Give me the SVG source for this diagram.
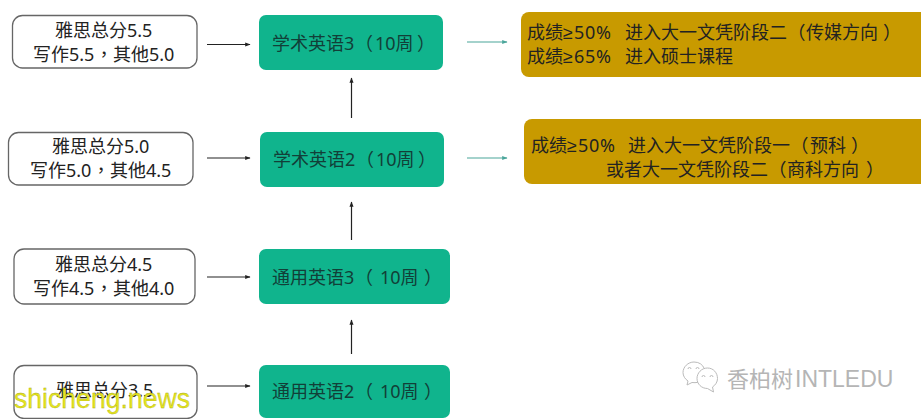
<svg xmlns="http://www.w3.org/2000/svg" width="921" height="419" viewBox="0 0 921 419">
<style>
text{font-family:"Noto Sans","Noto Sans CJK SC",sans-serif;font-size:18px;fill:#222;}
.g1{fill:#123f38}
.cm{font-family:"Noto Sans CJK TC",sans-serif}
.ge{font-family:"Liberation Sans",sans-serif}
.pc{letter-spacing:.8px}
.w{fill:#fff;stroke:#666;stroke-width:1.3}
.g{fill:#10b48d}
.y{fill:#c89a00}
.c{stroke:#222;stroke-width:1.2;fill:none}
.t{stroke:#4aa59a;stroke-width:1.2;fill:none}
.wm{font-family:"Liberation Sans",sans-serif;font-size:28px;fill:#e4e41e;stroke:#a8a820;stroke-width:.3}
.lg{font-size:22px;fill:#b5b5b5}
.lat{font-family:"Liberation Sans",sans-serif;font-size:23px;fill:#b5b5b5}
.i{fill:#fff;stroke:#bbb;stroke-width:1}
.e{fill:none;stroke:#bbb;stroke-width:1}
</style>
<defs>
<marker id="a" markerWidth="5" markerHeight="5" refX="4" refY="2.500" orient="auto"><path d="M0 .8L4.500 2.500L0 4.200Z" fill="#222"/></marker>
<marker id="b" markerWidth="5" markerHeight="5" refX="4" refY="2.500" orient="auto"><path d="M0 .8L4.500 2.500L0 4.200Z" fill="#4aa59a"/></marker>
</defs>
<g id="connectors">
<path class="c" marker-end="url(#a)" d="M207 44.500H250"/>
<path class="c" marker-end="url(#a)" d="M207 158H250"/>
<path class="c" marker-end="url(#a)" d="M207 277H250"/>
<path class="c" marker-end="url(#a)" d="M207 386H250"/>
<path class="c" marker-end="url(#a)" d="M351.500 118V78"/>
<path class="c" marker-end="url(#a)" d="M351.500 240V202"/>
<path class="c" marker-end="url(#a)" d="M351.500 354V320"/>
<path class="t" marker-end="url(#b)" d="M467 42H507"/>
<path class="t" marker-end="url(#b)" d="M467 158H507"/>
</g>
<g id="req1"><rect class="w" x="12.500" y="15.500" width="184.500" height="52.500" rx="10"/><text x="55" y="36.500">雅思总分5.5</text><text x="33" y="60.500">写作5.5<tspan class="cm" x="95">，</tspan><tspan x="113">其他5.0</tspan></text></g>
<g id="req2"><rect class="w" x="8.500" y="132.500" width="184.500" height="52.500" rx="10"/><text x="52" y="153">雅思总分5.0</text><text x="30" y="177">写作5.0<tspan class="cm" x="92">，</tspan><tspan x="110">其他4.5</tspan></text></g>
<g id="req3"><rect class="w" x="14" y="249" width="181" height="55" rx="10"/><text x="55" y="271">雅思总分4.5</text><text x="33" y="295">写作4.5<tspan class="cm" x="95">，</tspan><tspan x="113">其他4.0</tspan></text></g>
<g id="req4"><rect class="w" x="14" y="365.500" width="183" height="53" rx="10"/><text x="56" y="397">雅思总分3.5</text></g>
<g id="c1"><rect class="g" x="259" y="15" width="184" height="55" rx="7"/><text class="g1" x="272" y="50">学术英语3<tspan x="355">（</tspan><tspan x="375">10周</tspan><tspan x="417">）</tspan></text></g>
<g id="c2"><rect class="g" x="260" y="132" width="184" height="55" rx="7"/><text class="g1" x="273" y="166">学术英语2<tspan x="356">（</tspan><tspan x="376">10周</tspan><tspan x="418">）</tspan></text></g>
<g id="c3"><rect class="g" x="259" y="249" width="191" height="55" rx="7"/><text class="g1" x="272" y="284">通用英语3<tspan x="355">（</tspan><tspan x="380">10周</tspan><tspan x="424">）</tspan></text></g>
<g id="c4"><rect class="g" x="259" y="365" width="191" height="53" rx="7"/><text class="g1" x="272" y="398">通用英语2<tspan x="355">（</tspan><tspan x="380">10周</tspan><tspan x="424">）</tspan></text></g>
<g id="out1"><rect class="y" x="521" y="12" width="410" height="65" rx="8"/><text x="527" y="39">成绩<tspan class="ge">≥</tspan><tspan class="pc" dx="1">50%</tspan><tspan x="625">进入大一文凭阶段二</tspan><tspan x="787.500">（</tspan><tspan x="806">传媒方向</tspan><tspan x="883">）</tspan></text><text x="527" y="63">成绩<tspan class="ge">≥</tspan><tspan class="pc" dx="1">65%</tspan><tspan x="625">进入硕士课程</tspan></text></g>
<g id="out2"><rect class="y" x="524" y="119" width="407" height="65" rx="8"/><text x="531" y="152">成绩<tspan class="ge">≥</tspan><tspan class="pc" dx="1">50%</tspan><tspan x="628">进入大一文凭阶段一</tspan><tspan x="790.500">（</tspan><tspan x="810">预科</tspan><tspan x="851">）</tspan></text><text x="606" y="176">或者大一文凭阶段二<tspan x="768.500">（</tspan><tspan x="787">商科方向</tspan><tspan x="866">）</tspan></text></g>
<g id="logo">
<path class="i" d="M694 362c-6 0-11 5-11 10.500c0 3.500 2 6.500 5 8.500l-1 4l5-2.500c4 .5 8 0 12-3c3-6 1-17.500-10-17.500Z"/>
<path class="i" d="M707.500 368c-6 0-10.500 5-10.500 10.500s4.500 10 10.500 10l6 3.500l-1-5c3-2 5-5 5-8.500c0-5.500-4-10.500-10-10.500Z"/>
<path class="e" d="M688 369a1.500 1.500 0 0 1 3 0M696 369a1.500 1.500 0 0 1 3 0M702 377a1.500 1.500 0 0 1 3 0M710 377a1.500 1.500 0 0 1 3 0"/>
<text class="lg" x="727" y="387">香柏树</text><text class="lat" x="795" y="387">INTLEDU</text>
</g>
<text class="wm" x="14" y="408" textLength="176" lengthAdjust="spacingAndGlyphs">shicheng.news</text>
</svg>
